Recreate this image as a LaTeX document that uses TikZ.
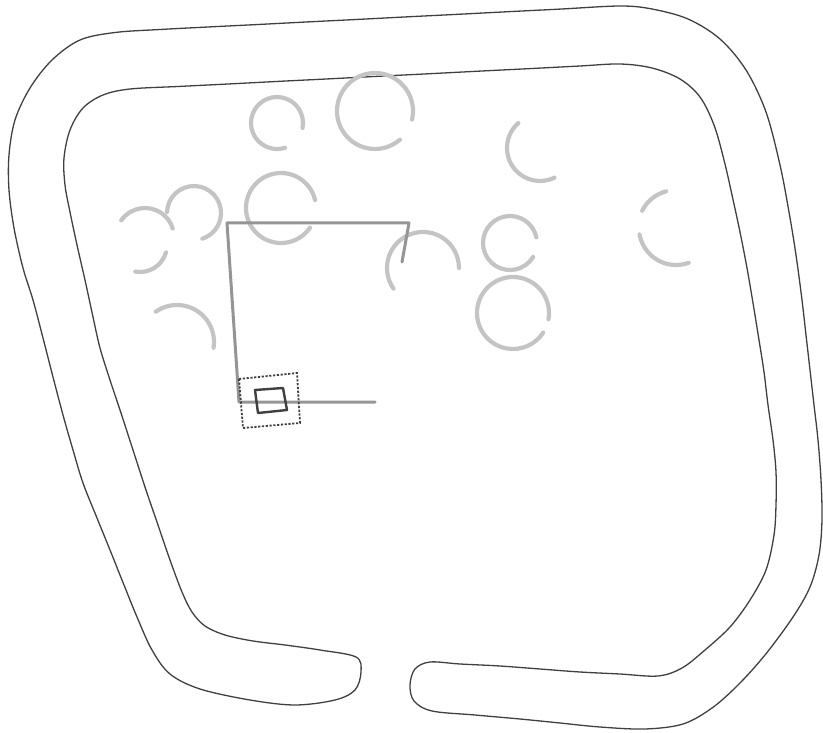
\documentclass[tikz,border=0pt]{standalone}
\usepackage{xcolor}
\usepackage{tikz}
\usetikzlibrary{calc}

\definecolor{roadgray}{HTML}{404040}
\definecolor{treegray}{HTML}{C4C4C4}
\definecolor{routegray}{HTML}{959595}

\begin{document}
\begin{tikzpicture}[
        x=1pt, y=-1pt,
        road/.style={draw=roadgray, line width=1.3pt, line join=round},
        tree/.style={draw=treegray, line width=4.2pt, line cap=round},
        route/.style={draw=routegray, line width=3pt, line cap=round, line join=round},
        zone/.style={draw=roadgray, line width=1.8pt, dash pattern=on 2.2pt off 1.6pt},
        car/.style={draw=roadgray, line width=2.4pt, line join=round},
    ]
    \useasboundingbox (0,0) rectangle (823,733);

    % Track outline -- one closed band with a gap at the bottom
    \draw[road] plot[smooth cycle, tension=0.55] coordinates {
        (356,657) (320,650) (285,645) (253,641) (225,635) (205,626)
        (192,612) (182,592) (170,560) (158,525) (146,490) (133,450)
        (121,413) (110,380) (100,348) (93,317) (85,280) (77,245)
        (70,212) (65,185) (64,158) (70,130) (83,108) (103,95)
        (130,89) (180,86.4) (230,83.9) (280,81.3) (330,78.8) (380,76.2)
        (430,73.7) (480,71.1) (530,68.6) (580,66) (620,64) (652,68)
        (680,79) (700,97) (714,125) (724,160) (732,195) (740,232)
        (747,268) (753,303) (759,340) (764,372) (768,405) (773,440)
        (776,472) (776,505) (774,535) (766,570) (750,600) (730,627)
        (705,650) (682,668) (658,676) (620,674) (580,672) (540,669)
        (500,666) (460,664) (430,662) (415,669) (410,685) (414,701)
        (432,711) (475,715) (520,719) (560,723) (600,727) (645,729)
        (683,724) (712,708) (738,685) (765,655) (793,617) (810,587)
        (819,555) (822,520) (821,480) (818,440) (814,405) (810,370)
        (806,335) (802,300) (796,255) (789,212) (780,165) (766,112)
        (746,70) (720,39) (688,19) (652,9) (620,6) (560,9.1)
        (510,11.6) (460,14.2) (410,16.7) (360,19.3) (310,21.8) (260,24.4)
        (210,26.9) (160,29.5) (115,32.5) (80,40) (52,60) (30,88)
        (15,120) (9,155) (9,190) (14,228) (23,268) (33,300)
        (43,338) (53,377) (63,415) (73,450) (83,483) (97,518)
        (110,550) (124,585) (137,617) (152,650) (170,674) (200,689)
        (250,700) (295,705) (335,700) (355,690) (361,672)};

    % Tree crowns (open arcs)
    \draw[tree] (277,123) ++(11:26) arc[start angle=11, end angle=-288, radius=26];
    \draw[tree] (375,111) ++(13:38) arc[start angle=13, end angle=-311, radius=38];
    \draw[tree] (145,237) ++(-145:29) arc[start angle=-145, end angle=-17, radius=29];
    \draw[tree] (194,213) ++(-178:27) arc[start angle=-178, end angle=72, radius=27];
    \draw[tree] (140,245) ++(16:27) arc[start angle=16, end angle=100, radius=27];
    \draw[tree] (177,342) ++(-125:37) arc[start angle=-125, end angle=9, radius=37];
    \draw[tree] (281,208) ++(-13:35) arc[start angle=-13, end angle=-326, radius=35];
    \draw[tree] (423,268) ++(-215:36) arc[start angle=-215, end angle=0, radius=36];
    \draw[tree] (540,148) ++(-131:33) arc[start angle=-131, end angle=-296, radius=33];
    \draw[tree] (510,243) ++(-12:27) arc[start angle=-12, end angle=-329, radius=27];
    \draw[tree] (513,313) ++(10:36) arc[start angle=10, end angle=-327, radius=36];
    \draw[tree] (676,228) ++(-105:38) arc[start angle=-105, end angle=-153, radius=38];
    \draw[tree] (676,228) ++(-190:37) arc[start angle=-190, end angle=-290, radius=37];

    % Planned route
    \coordinate (rtend) at (402,262);
    \coordinate (rtne) at (409,223);
    \coordinate (rtnw) at (227,223);
    \coordinate (rtsw) at (239,402);
    \coordinate (rtstart) at (375,402);
    \draw[route] (rtend) -- (rtne) -- (rtnw) -- (rtsw) -- (rtstart);

    % Vehicle and its safety zone
    \draw[zone] (239,379) -- (297,373) -- (300,423) -- (243,428) -- cycle;
    \draw[car] (255,390) -- (283,388) -- (287,410) -- (258,413) -- cycle;
\end{tikzpicture}
\end{document}
